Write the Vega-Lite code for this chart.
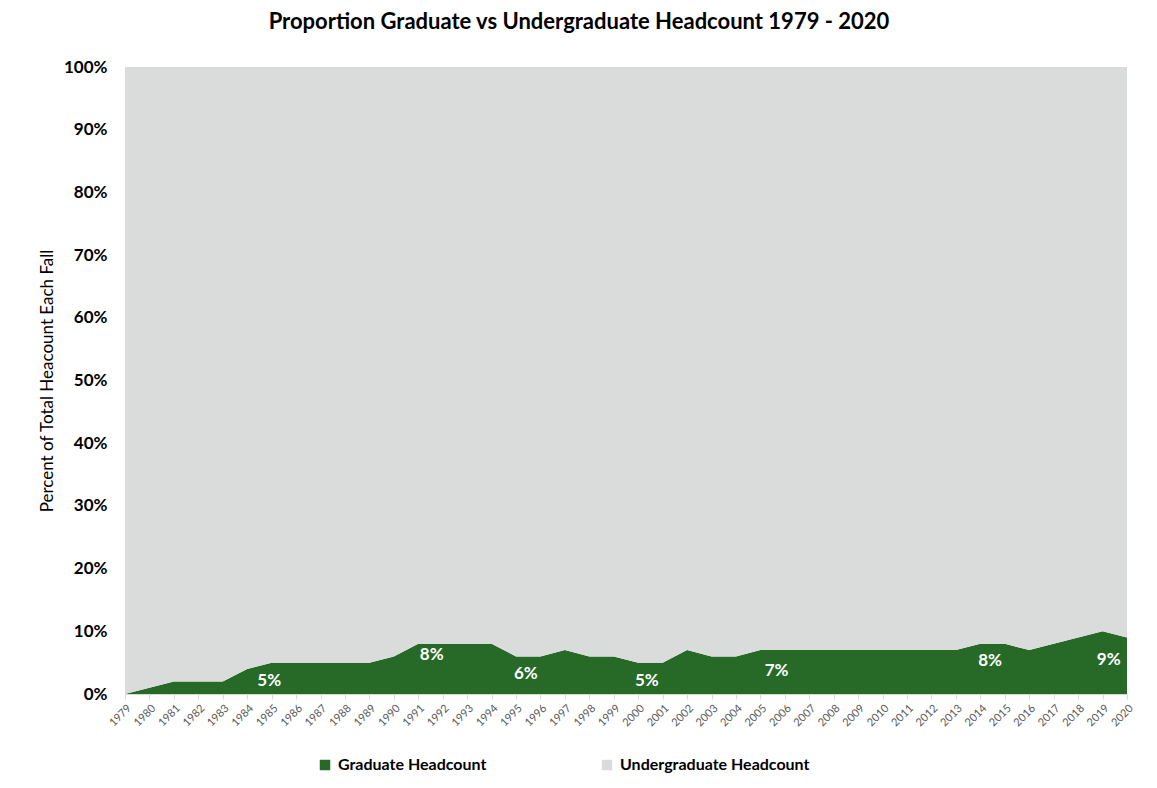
{
  "$schema": "https://vega.github.io/schema/vega-lite/v6.json",
  "autosize": "none",
  "width": 1002,
  "height": 627,
  "padding": {"left": 125, "top": 67, "right": 30, "bottom": 94},
  "background": "white",
  "config": {
    "font": "Lato, 'Open Sans', sans-serif",
    "view": {"stroke": null}
  },
  "title": {
    "text": "Proportion Graduate vs Undergraduate Headcount 1979 - 2020",
    "fontSize": 22,
    "fontWeight": "bold",
    "color": "#000000",
    "anchor": "middle",
    "dx": -47,
    "offset": 24
  },
  "datasets": {
    "share": [
      {"year": 1979, "Graduate Headcount": 0.00, "Undergraduate Headcount": 1.00},
      {"year": 1980, "Graduate Headcount": 0.01, "Undergraduate Headcount": 0.99},
      {"year": 1981, "Graduate Headcount": 0.02, "Undergraduate Headcount": 0.98},
      {"year": 1982, "Graduate Headcount": 0.02, "Undergraduate Headcount": 0.98},
      {"year": 1983, "Graduate Headcount": 0.02, "Undergraduate Headcount": 0.98},
      {"year": 1984, "Graduate Headcount": 0.04, "Undergraduate Headcount": 0.96},
      {"year": 1985, "Graduate Headcount": 0.05, "Undergraduate Headcount": 0.95},
      {"year": 1986, "Graduate Headcount": 0.05, "Undergraduate Headcount": 0.95},
      {"year": 1987, "Graduate Headcount": 0.05, "Undergraduate Headcount": 0.95},
      {"year": 1988, "Graduate Headcount": 0.05, "Undergraduate Headcount": 0.95},
      {"year": 1989, "Graduate Headcount": 0.05, "Undergraduate Headcount": 0.95},
      {"year": 1990, "Graduate Headcount": 0.06, "Undergraduate Headcount": 0.94},
      {"year": 1991, "Graduate Headcount": 0.08, "Undergraduate Headcount": 0.92},
      {"year": 1992, "Graduate Headcount": 0.08, "Undergraduate Headcount": 0.92},
      {"year": 1993, "Graduate Headcount": 0.08, "Undergraduate Headcount": 0.92},
      {"year": 1994, "Graduate Headcount": 0.08, "Undergraduate Headcount": 0.92},
      {"year": 1995, "Graduate Headcount": 0.06, "Undergraduate Headcount": 0.94},
      {"year": 1996, "Graduate Headcount": 0.06, "Undergraduate Headcount": 0.94},
      {"year": 1997, "Graduate Headcount": 0.07, "Undergraduate Headcount": 0.93},
      {"year": 1998, "Graduate Headcount": 0.06, "Undergraduate Headcount": 0.94},
      {"year": 1999, "Graduate Headcount": 0.06, "Undergraduate Headcount": 0.94},
      {"year": 2000, "Graduate Headcount": 0.05, "Undergraduate Headcount": 0.95},
      {"year": 2001, "Graduate Headcount": 0.05, "Undergraduate Headcount": 0.95},
      {"year": 2002, "Graduate Headcount": 0.07, "Undergraduate Headcount": 0.93},
      {"year": 2003, "Graduate Headcount": 0.06, "Undergraduate Headcount": 0.94},
      {"year": 2004, "Graduate Headcount": 0.06, "Undergraduate Headcount": 0.94},
      {"year": 2005, "Graduate Headcount": 0.07, "Undergraduate Headcount": 0.93},
      {"year": 2006, "Graduate Headcount": 0.07, "Undergraduate Headcount": 0.93},
      {"year": 2007, "Graduate Headcount": 0.07, "Undergraduate Headcount": 0.93},
      {"year": 2008, "Graduate Headcount": 0.07, "Undergraduate Headcount": 0.93},
      {"year": 2009, "Graduate Headcount": 0.07, "Undergraduate Headcount": 0.93},
      {"year": 2010, "Graduate Headcount": 0.07, "Undergraduate Headcount": 0.93},
      {"year": 2011, "Graduate Headcount": 0.07, "Undergraduate Headcount": 0.93},
      {"year": 2012, "Graduate Headcount": 0.07, "Undergraduate Headcount": 0.93},
      {"year": 2013, "Graduate Headcount": 0.07, "Undergraduate Headcount": 0.93},
      {"year": 2014, "Graduate Headcount": 0.08, "Undergraduate Headcount": 0.92},
      {"year": 2015, "Graduate Headcount": 0.08, "Undergraduate Headcount": 0.92},
      {"year": 2016, "Graduate Headcount": 0.07, "Undergraduate Headcount": 0.93},
      {"year": 2017, "Graduate Headcount": 0.08, "Undergraduate Headcount": 0.92},
      {"year": 2018, "Graduate Headcount": 0.09, "Undergraduate Headcount": 0.91},
      {"year": 2019, "Graduate Headcount": 0.10, "Undergraduate Headcount": 0.90},
      {"year": 2020, "Graduate Headcount": 0.09, "Undergraduate Headcount": 0.91}
    ],
    "labels": [
      {"year": 1984.9, "at": 0.021, "label": "5%"},
      {"year": 1991.55, "at": 0.062, "label": "8%"},
      {"year": 1995.4, "at": 0.032, "label": "6%"},
      {"year": 2000.35, "at": 0.021, "label": "5%"},
      {"year": 2005.66, "at": 0.037, "label": "7%"},
      {"year": 2014.4, "at": 0.052, "label": "8%"},
      {"year": 2019.25, "at": 0.054, "label": "9%"}
    ]
  },
  "layer": [
    {
      "data": {"name": "share"},
      "transform": [
        {"fold": ["Graduate Headcount", "Undergraduate Headcount"], "as": ["group", "value"]}
      ],
      "mark": {"type": "area", "interpolate": "linear"},
      "encoding": {
        "x": {
          "field": "year",
          "type": "quantitative",
          "scale": {"domain": [1979, 2020], "nice": false, "zero": false},
          "axis": {
            "title": null,
            "values": [1979,1980,1981,1982,1983,1984,1985,1986,1987,1988,1989,1990,1991,1992,1993,1994,1995,1996,1997,1998,1999,2000,2001,2002,2003,2004,2005,2006,2007,2008,2009,2010,2011,2012,2013,2014,2015,2016,2017,2018,2019,2020],
            "tickCount": 100,
            "format": "d",
            "labelAngle": -45,
            "labelAlign": "right",
            "labelBaseline": "top",
            "labelFontSize": 11,
            "labelColor": "#595959",
            "labelPadding": 3,
            "labelOverlap": false,
            "labelFlush": false,
            "grid": false,
            "tickColor": "#d9d9d9",
            "tickSize": 5,
            "domainColor": "#d9d9d9"
          }
        },
        "y": {
          "field": "value",
          "type": "quantitative",
          "stack": "zero",
          "scale": {"domain": [0, 1], "nice": false},
          "axis": {
            "title": "Percent of Total Heacount Each Fall",
            "titleFontSize": 17,
            "titleFontWeight": "normal",
            "titleColor": "#000000",
            "titlePadding": 7,
            "format": ".0%",
            "values": [0,0.1,0.2,0.3,0.4,0.5,0.6,0.7,0.8,0.9,1],
            "labelFontSize": 17,
            "labelFontWeight": "bold",
            "labelColor": "#000000",
            "labelPadding": 18,
            "ticks": false,
            "domain": false,
            "grid": false
          }
        },
        "color": {
          "field": "group",
          "type": "nominal",
          "scale": {
            "domain": ["Graduate Headcount", "Undergraduate Headcount"],
            "range": ["#276a28", "#d9dcdb"]
          },
          "legend": {
            "title": null,
            "orient": "none",
            "direction": "horizontal",
            "legendX": 192,
            "legendY": 690,
            "symbolType": "square",
            "symbolSize": 110,
            "symbolStrokeWidth": 0,
            "labelFontSize": 16,
            "labelFontWeight": "bold",
            "labelColor": "#000000",
            "labelLimit": 400,
            "columnPadding": 112,
            "labelOffset": 5
          }
        },
        "order": {"field": "group", "sort": "ascending"}
      }
    },
    {
      "data": {"name": "labels"},
      "mark": {"type": "text", "color": "white", "fontSize": 17, "fontWeight": "bold", "align": "center", "baseline": "middle"},
      "encoding": {
        "x": {"field": "year", "type": "quantitative"},
        "y": {"field": "at", "type": "quantitative"},
        "text": {"field": "label"}
      }
    }
  ]
}
